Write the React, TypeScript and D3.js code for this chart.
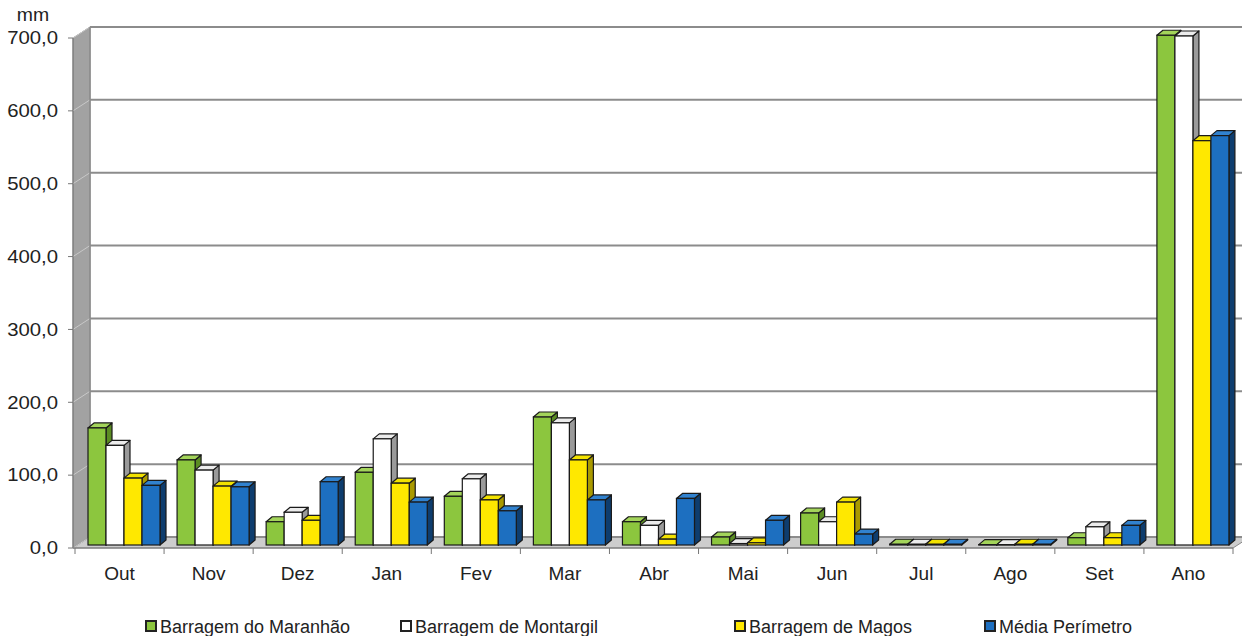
import React from 'react';
import * as d3 from 'd3';

const categories = ['Out', 'Nov', 'Dez', 'Jan', 'Fev', 'Mar', 'Abr', 'Mai', 'Jun', 'Jul', 'Ago', 'Set', 'Ano'];
const seriesNames = ['Barragem do Maranhão', 'Barragem de Montargil', 'Barragem de Magos', 'Média Perímetro'];
const maranhao = [161, 117, 32, 100, 67, 176, 32, 11, 44, 1, 0.5, 10, 701];
const montargil = [137, 103, 45, 146, 91, 168, 27, 2, 32, 1, 0.5, 25, 700];
const magos = [92, 81, 34, 85, 62, 117, 8, 3, 59, 1, 1, 10, 556];
const media = [82, 80, 87, 59, 47, 62, 64, 34, 15, 1, 1, 27, 563];
const yTicks = [0, 100, 200, 300, 400, 500, 600, 700];

// front / top / side colours per series
const faces = [
  { front: '#8cc63e', top: '#a3d45a', side: '#5b8c23' },
  { front: '#ffffff', top: '#ececec', side: '#9a9a9a' },
  { front: '#ffe800', top: '#f2e200', side: '#aa9a00' },
  { front: '#1d6fc0', top: '#3182cf', side: '#0e3d6e' },
];

const W = 1242;
const H = 636;
const DX = 17; // wall depth
const DY = -11;
const BDX = 6; // bar depth
const BDY = -5;

export default function App() {
  const values = [maranhao, montargil, magos, media];
  const x = d3.scaleBand<string>().domain(categories).range([75, 1233]).paddingInner(0);
  const xs = d3.scaleBand<string>().domain(seriesNames).range([13, 85]);
  const yFront = d3.scaleLinear().domain([0, 700]).range([548, 38]);
  const yBar = d3.scaleLinear().domain([0, 700]).range([545, 36]);
  const x0 = 73;
  const xEnd = 1233;
  const fmt = (v: number) => d3.format('.1f')(v).replace('.', ',');

  const poly = (pts: number[][]) => pts.map(p => p.join(',')).join(' ');

  return (
    <svg width={W} height={H} style={{ position: 'absolute', left: 0, top: 0, background: '#fff' }}
      fontFamily="'Liberation Sans', Arial, sans-serif">
      {/* left wall */}
      <polygon points={poly([[x0, yFront(0)], [x0, yFront(700)], [x0 + DX, yFront(700) + DY], [x0 + DX, yFront(0) + DY]])}
        fill="#a2a2a2" stroke="#8a8a8a" strokeWidth={1} />
      {/* floor */}
      <polygon points={poly([[x0, yFront(0)], [xEnd, yFront(0)], [xEnd + DX, yFront(0) + DY], [x0 + DX, yFront(0) + DY]])}
        fill="#cdcdcd" stroke="#8a8a8a" strokeWidth={1} />
      {/* back wall gridlines */}
      {yTicks.map(t => (
        <g key={t}>
          <line x1={x0} x2={x0 + DX} y1={yFront(t)} y2={yFront(t) + DY} stroke="#c8c8c8" strokeWidth={1} />
          <line x1={x0 + DX} x2={W} y1={yFront(t) + DY} y2={yFront(t) + DY} stroke="#8c8c8c" strokeWidth={2} />
        </g>
      ))}
      <line x1={x0 + DX} x2={x0 + DX} y1={yFront(0) + DY} y2={yFront(700) + DY} stroke="#8c8c8c" strokeWidth={1.5} />
      {/* front y axis */}
      <line x1={x0} x2={x0} y1={yFront(0)} y2={yFront(700)} stroke="#777" strokeWidth={1} />
      {yTicks.map(t => (
        <g key={'yt' + t}>
          <line x1={x0 - 5} x2={x0} y1={yFront(t)} y2={yFront(t)} stroke="#777" />
          <text transform={`translate(58,${yFront(t)}) scale(1.13,1)`} dy="0.35em" textAnchor="end" fontSize={18} fill="#222">{fmt(t)}</text>
        </g>
      ))}
      <text transform="translate(33,21) scale(1.08,1)" textAnchor="middle" fontSize={18} fill="#222">mm</text>
      {/* front x axis */}
      <line x1={x0} x2={xEnd} y1={yFront(0)} y2={yFront(0)} stroke="#777" strokeWidth={1} />
      {categories.map(c => (
        <line key={'xt' + c} x1={x(c)!} x2={x(c)!} y1={yFront(0)} y2={yFront(0) + 6} stroke="#777" />
      ))}
      <line x1={xEnd} x2={xEnd} y1={yFront(0)} y2={yFront(0) + 6} stroke="#777" />
      {categories.map(c => (
        <text key={'xl' + c} x={x(c)! + x.bandwidth() / 2} y={580} textAnchor="middle" fontSize={19} fill="#222">{c}</text>
      ))}
      {/* bars */}
      {categories.map((c, i) => (
        <g key={'bars' + c}>
          {seriesNames.map((s, j) => {
            const v = values[j][i];
            const bx = x(c)! + xs(s)!;
            const bw = xs.bandwidth();
            const y0 = yBar(0);
            const y1 = yBar(v);
            const f = faces[j];
            return (
              <g key={s}>
                <polygon points={poly([[bx + bw, y0], [bx + bw, y1], [bx + bw + BDX, y1 + BDY], [bx + bw + BDX, y0 + BDY]])}
                  fill={f.side} stroke="#1a1a1a" strokeWidth={1.2} strokeLinejoin="round" />
                <polygon points={poly([[bx, y1], [bx + bw, y1], [bx + bw + BDX, y1 + BDY], [bx + BDX, y1 + BDY]])}
                  fill={f.top} stroke="#1a1a1a" strokeWidth={1.2} strokeLinejoin="round" />
                <rect x={bx} y={y1} width={bw} height={y0 - y1} fill={f.front} stroke="#1a1a1a" strokeWidth={1.2} />
              </g>
            );
          })}
        </g>
      ))}
      {/* legend */}
      {seriesNames.map((s, j) => {
        const lx = [146, 401, 735, 985][j];
        return (
          <g key={'lg' + s}>
            <rect x={lx} y={621} width={10} height={10} fill={faces[j].front} stroke="#222" strokeWidth={2} />
            <text x={lx + 14} y={633} fontSize={18} fill="#222">{s}</text>
          </g>
        );
      })}
    </svg>
  );
}
